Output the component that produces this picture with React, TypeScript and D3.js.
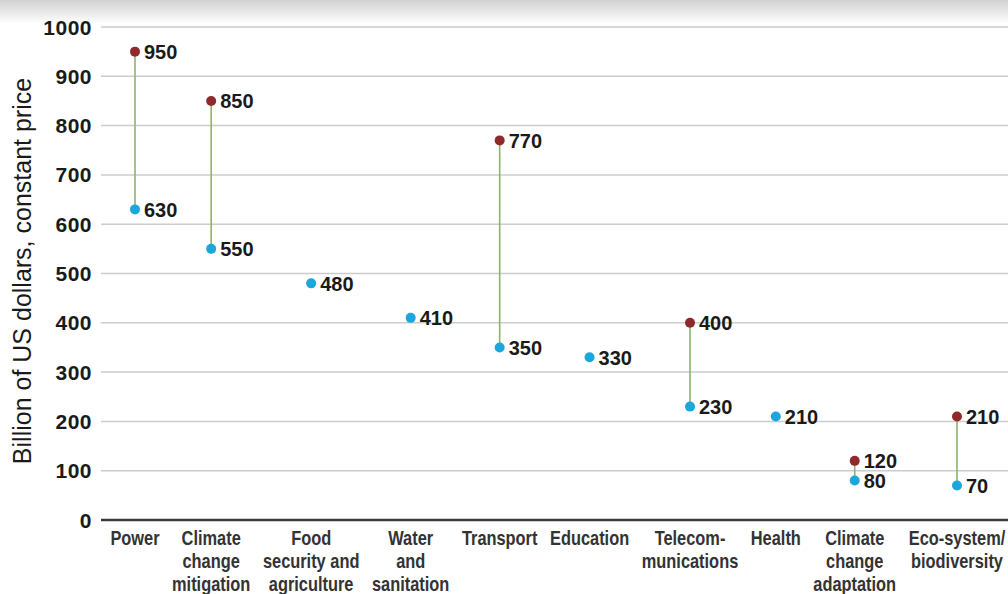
import React from "react";
import * as d3 from "d3";

const categories: string[][] = [
  ["Power"],
  ["Climate", "change", "mitigation"],
  ["Food", "security and", "agriculture"],
  ["Water", "and", "sanitation"],
  ["Transport"],
  ["Education"],
  ["Telecom-", "munications"],
  ["Health"],
  ["Climate", "change", "adaptation"],
  ["Eco-system/", "biodiversity"],
];
const lowValues: number[] = [630, 550, 480, 410, 350, 330, 230, 210, 80, 70];
const highValues: (number | null)[] = [950, 850, null, null, 770, null, 400, null, 120, 210];
const yTicks: number[] = [0, 100, 200, 300, 400, 500, 600, 700, 800, 900, 1000];
const yTitle = "Billion of US dollars, constant price";

const W = 1008;
const H = 594;
const catFontSize = 20;
const catFont = `bold ${catFontSize}px 'Liberation Sans', Arial, sans-serif`;
const squeeze = 0.82;

function measure(text: string, font: string): number {
  const c = document.createElement("canvas");
  const ctx = c.getContext("2d")!;
  ctx.font = font;
  return ctx.measureText(text).width;
}

export default function App() {
  const y = d3.scaleLinear().domain([0, 1000]).range([520, 27]);

  // pack category labels by their (condensed) widths, then map to the plot width
  const widths = categories.map((lines) => (d3.max(lines, (l) => measure(l, catFont)) || 0) * squeeze);
  const gap = 12;
  const centers: number[] = [];
  let acc = 0;
  widths.forEach((w) => {
    centers.push(acc + w / 2);
    acc += w + gap;
  });
  const x = d3
    .scaleLinear()
    .domain([centers[0], centers[centers.length - 1]])
    .range([135, 957]);

  const plotLeft = 101;
  const plotRight = W;

  return (
    <svg width={W} height={H} style={{ position: "absolute", left: 0, top: 0, background: "#fff" }}>
      <defs>
        <linearGradient id="topfade" x1="0" y1="0" x2="0" y2="1">
          <stop offset="0%" stopColor="#d2d2d2" />
          <stop offset="100%" stopColor="#ffffff" />
        </linearGradient>
      </defs>
      <rect x={0} y={0} width={W} height={H} fill="#fff" />
      <rect x={0} y={0} width={W} height={24} fill="url(#topfade)" />

      {/* grid */}
      {yTicks.map((t) => (
        <g key={t}>
          {t !== 0 && (
            <line x1={plotLeft} x2={plotRight} y1={y(t)} y2={y(t)} stroke="#cccccc" strokeWidth={1.5} />
          )}
          <text
            x={92}
            y={y(t)}
            dy="0.36em"
            textAnchor="end"
            fontFamily="'Liberation Sans', Arial, sans-serif"
            fontWeight="bold"
            fontSize={21}
            letterSpacing={0.5}
            fill="#1a1a1a"
          >
            {t}
          </text>
        </g>
      ))}
      <line x1={plotLeft} x2={plotRight} y1={y(0)} y2={y(0)} stroke="#3a3a3a" strokeWidth={2.5} />

      {/* y title */}
      <text
        transform={`translate(31, ${271}) rotate(-90)`}
        textAnchor="middle"
        fontFamily="'Liberation Sans', Arial, sans-serif"
        fontSize={25}
        fill="#1a1a1a"
      >
        {yTitle}
      </text>

      {/* category labels */}
      {categories.map((lines, i) => (
        <g key={i} transform={`translate(${x(centers[i])},0) scale(${squeeze},1)`}>
          <text
            textAnchor="middle"
            fontFamily="'Liberation Sans', Arial, sans-serif"
            fontWeight="bold"
            fontSize={catFontSize}
            fill="#333333"
          >
            {lines.map((l, j) => (
              <tspan key={j} x={0} y={545 + j * 23}>
                {l}
              </tspan>
            ))}
          </text>
        </g>
      ))}

      {/* connectors */}
      {categories.map((_, i) =>
        highValues[i] != null ? (
          <line
            key={"c" + i}
            x1={x(centers[i])}
            x2={x(centers[i])}
            y1={y(highValues[i] as number)}
            y2={y(lowValues[i])}
            stroke="#8cb46c"
            strokeWidth={1.6}
          />
        ) : null
      )}

      {/* points and labels */}
      {categories.map((_, i) => {
        const cx = x(centers[i]);
        const hv = highValues[i];
        return (
          <g key={"p" + i}>
            {hv != null && (
              <g>
                <circle cx={cx} cy={y(hv)} r={5} fill="#8e2a2a" />
                <text
                  x={cx + 9}
                  y={y(hv)}
                  dy="0.36em"
                  fontFamily="'Liberation Sans', Arial, sans-serif"
                  fontWeight="bold"
                  fontSize={20}
                  fill="#1a1a1a"
                >
                  {hv}
                </text>
              </g>
            )}
            <circle cx={cx} cy={y(lowValues[i])} r={5} fill="#1ba6dc" />
            <text
              x={cx + 9}
              y={y(lowValues[i])}
              dy="0.36em"
              fontFamily="'Liberation Sans', Arial, sans-serif"
              fontWeight="bold"
              fontSize={20}
              fill="#1a1a1a"
            >
              {lowValues[i]}
            </text>
          </g>
        );
      })}
    </svg>
  );
}
